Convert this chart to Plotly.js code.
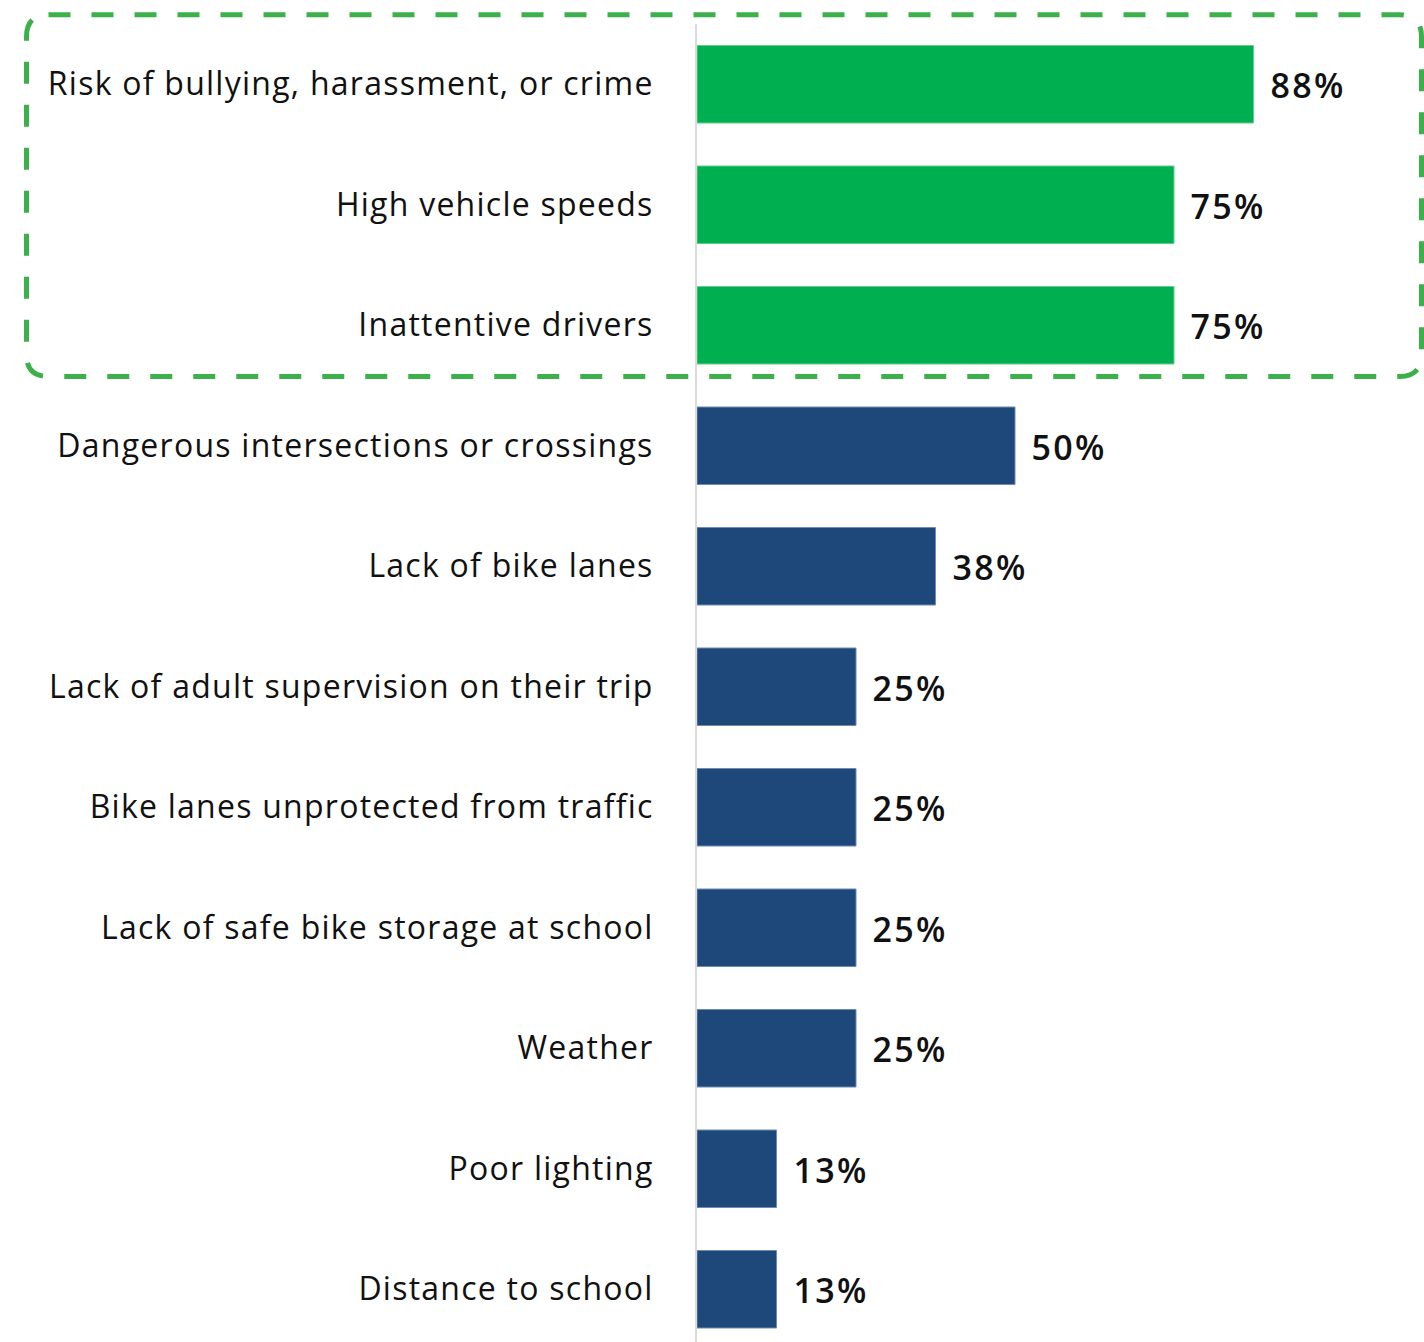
<!DOCTYPE html>
<html>
<head>
<meta charset="utf-8">
<script src="https://cdn.plot.ly/plotly-3.0.1.min.js"></script>
<style>
html,body{margin:0;padding:0;background:#fff;}
#chart{width:1424px;height:1342px;}
#chart .ytick text{letter-spacing:1.25px;}
#chart .annotation-text{letter-spacing:2.4px;}
</style>
</head>
<body>
<div id="chart"></div>
<script>
// Data
const categories = [
  "Risk of bullying, harassment, or crime",
  "High vehicle speeds",
  "Inattentive drivers",
  "Dangerous intersections or crossings",
  "Lack of bike lanes",
  "Lack of adult supervision on their trip",
  "Bike lanes unprotected from traffic",
  "Lack of safe bike storage at school",
  "Weather",
  "Poor lighting",
  "Distance to school"
];
const values = [87.5, 75, 75, 50, 37.5, 25, 25, 25, 25, 12.5, 12.5];
const valueLabels = ["88%", "75%", "75%", "50%", "38%", "25%", "25%", "25%", "25%", "13%", "13%"];
const highlighted = [true, true, true, false, false, false, false, false, false, false, false];

const GREEN = "#00b050", BLUE = "#1f487a";
const W = 1424, H = 1342, L = 697, T = 24;
const plotW = W - L, plotH = H - T;
const pxPerCat = 120.5, pxPerPct = 6.36;
const FONT = "'Open Sans', 'Noto Sans', sans-serif";

const trace = {
  type: "bar",
  orientation: "h",
  y: categories,
  x: values,
  marker: {
    color: highlighted.map(h => h ? GREEN : BLUE),
    line: {color: highlighted.map(h => h ? "#5fcf8a" : "#6d8bb3"), width: 1}
  },
  hoverinfo: "none"
};

const annotations = categories.map((c, i) => ({
  x: values[i], y: c, xref: "x", yref: "y",
  text: valueLabels[i], showarrow: false, xanchor: "left", yanchor: "middle",
  xshift: 18, yshift: -1,
  font: {family: FONT, size: 34, color: "#111", weight: 600}
}));

// Dashed rounded box (pixel geometry converted to paper coords)
const px = x => (x - L) / plotW;
const py = y => (H - y) / plotH;
const bx0 = 26.5, bx1 = 1421.5, by0 = 14.7, by1 = 376.5, r = 22;
const path = [
  `M ${px(bx0 + r)},${py(by0)}`,
  `L ${px(bx1 - r)},${py(by0)}`,
  `Q ${px(bx1)},${py(by0)} ${px(bx1)},${py(by0 + r)}`,
  `L ${px(bx1)},${py(by1 - r)}`,
  `Q ${px(bx1)},${py(by1)} ${px(bx1 - r)},${py(by1)}`,
  `L ${px(bx0 + r)},${py(by1)}`,
  `Q ${px(bx0)},${py(by1)} ${px(bx0)},${py(by1 - r)}`,
  `L ${px(bx0)},${py(by0 + r)}`,
  `Q ${px(bx0)},${py(by0)} ${px(bx0 + r)},${py(by0)}`,
  "Z"
].join(" ");

const layout = {
  width: W, height: H,
  margin: {l: L, r: 0, t: T, b: 0, pad: 0},
  paper_bgcolor: "#fff", plot_bgcolor: "#fff",
  bargap: 1 - 77.5 / pxPerCat,
  showlegend: false,
  xaxis: {
    range: [0, plotW / pxPerPct],
    showgrid: false, zeroline: false, showticklabels: false, showline: false, ticks: ""
  },
  yaxis: {
    type: "category",
    range: [plotH / pxPerCat - 0.5, -0.5],
    showgrid: false, zeroline: false,
    showline: true, linecolor: "#d9d9d9", linewidth: 2,
    ticks: "", ticklabelstandoff: 35,
    tickfont: {family: FONT, size: 32, color: "#111"}
  },
  annotations: annotations,
  shapes: [{
    type: "path", xref: "paper", yref: "paper", path: path,
    line: {color: "#3cb04a", width: 5, dash: "22px,21px"},
    fillcolor: "rgba(0,0,0,0)", layer: "above"
  }]
};

Plotly.newPlot("chart", [trace], layout, {displayModeBar: false, staticPlot: true});
</script>
</body>
</html>
